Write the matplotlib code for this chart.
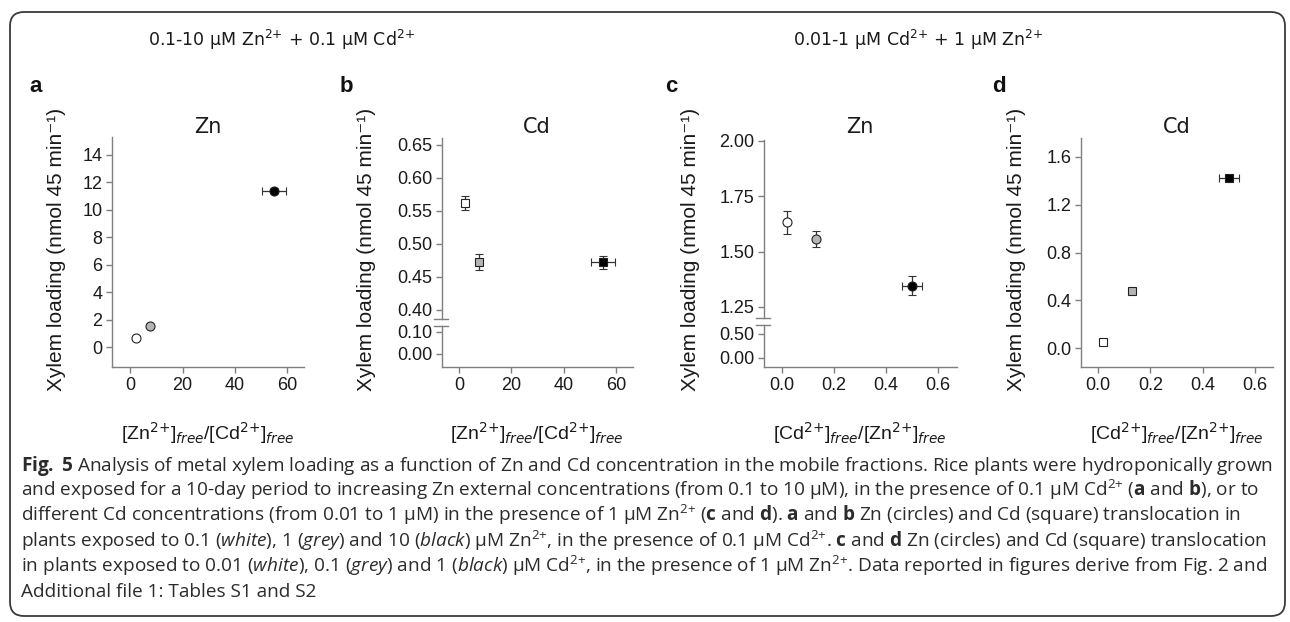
import matplotlib
matplotlib.use('Agg')
import matplotlib.pyplot as plt
from matplotlib.patches import FancyBboxPatch
from matplotlib.lines import Line2D
from matplotlib.transforms import IdentityTransform

W, H = 1290, 622
plt.rcParams['font.family'] = ['Liberation Sans', 'DejaVu Sans']
plt.rcParams['mathtext.fontset'] = 'custom'
plt.rcParams['mathtext.rm'] = 'Open Sans'
plt.rcParams['mathtext.it'] = 'Open Sans:italic'
plt.rcParams['mathtext.bf'] = 'Open Sans:bold'

# ---------------- data ----------------
point_fills = ['white', '#b4b4b4', 'black']

zn_cd_ratio = [2.3, 7.6, 55.0]          # [Zn2+]free/[Cd2+]free (panels a, b)
zn_cd_ratio_err = [0.0, 0.0, 4.6]
zn_load_a = [0.65, 1.5, 11.4]           # Zn xylem loading (a)
zn_load_a_err = [0.0, 0.0, 0.15]
cd_load_b = [0.562, 0.473, 0.472]       # Cd xylem loading (b)
cd_load_b_err = [0.011, 0.012, 0.010]

cd_zn_ratio = [0.02, 0.13, 0.50]        # [Cd2+]free/[Zn2+]free (panels c, d)
cd_zn_ratio_err = [0.0, 0.0, 0.038]
zn_load_c = [1.632, 1.556, 1.346]       # Zn xylem loading (c)
zn_load_c_err = [0.053, 0.036, 0.043]
cd_load_d = [0.05, 0.475, 1.425]        # Cd xylem loading (d)
cd_load_d_err = [0.0, 0.0, 0.02]

ticks_ab_x = [0, 20, 40, 60]
ticks_cd_x = [0.0, 0.2, 0.4, 0.6]
ticks_a_y = [0, 2, 4, 6, 8, 10, 12, 14]
ticks_b_upper = [0.40, 0.45, 0.50, 0.55, 0.60, 0.65]
ticks_b_lower = [0.00, 0.10]
ticks_c_upper = [1.25, 1.50, 1.75, 2.00]
ticks_c_lower = [0.00, 0.50]
ticks_d_y = [0.0, 0.4, 0.8, 1.2, 1.6]

header_left = r"0.1-10 µM Zn$^{2{+}}$ + 0.1 µM Cd$^{2{+}}$"
header_right = r"0.01-1 µM Cd$^{2{+}}$ + 1 µM Zn$^{2{+}}$"
panel_titles = ['Zn', 'Cd', 'Zn', 'Cd']
panel_letters = ['a', 'b', 'c', 'd']
ylabel_text = "Xylem loading (nmol 45 min⁻¹)"
xlabel_ab = r"[Zn$^{2{+}}$]$_{\mathit{free}}$/[Cd$^{2{+}}$]$_{\mathit{free}}$"
xlabel_cd = r"[Cd$^{2{+}}$]$_{\mathit{free}}$/[Zn$^{2{+}}$]$_{\mathit{free}}$"

caption_lines = [
    r"$\mathbf{Fig.\;5}$ Analysis of metal xylem loading as a function of Zn and Cd concentration in the mobile fractions. Rice plants were hydroponically grown",
    r"and exposed for a 10-day period to increasing Zn external concentrations (from 0.1 to 10 µM), in the presence of 0.1 µM Cd$^{2{+}}$ ($\mathbf{a}$ and $\mathbf{b}$), or to",
    r"different Cd concentrations (from 0.01 to 1 µM) in the presence of 1 µM Zn$^{2{+}}$ ($\mathbf{c}$ and $\mathbf{d}$). $\mathbf{a}$ and $\mathbf{b}$ Zn (circles) and Cd (square) translocation in",
    r"plants exposed to 0.1 ($\mathit{white}$), 1 ($\mathit{grey}$) and 10 ($\mathit{black}$) µM Zn$^{2{+}}$, in the presence of 0.1 µM Cd$^{2{+}}$. $\mathbf{c}$ and $\mathbf{d}$ Zn (circles) and Cd (square) translocation",
    r"in plants exposed to 0.01 ($\mathit{white}$), 0.1 ($\mathit{grey}$) and 1 ($\mathit{black}$) µM Cd$^{2{+}}$, in the presence of 1 µM Zn$^{2{+}}$. Data reported in figures derive from Fig. 2 and",
    "Additional file 1: Tables S1 and S2",
]

# ---------------- figure ----------------
fig = plt.figure(figsize=(W / 100, H / 100), dpi=100)
fig.patch.set_facecolor('white')
AXC = '#7f7f7f'
TXT = '#1a1a1a'


def fx(x):
    return x / W


def fy(y):
    return 1 - y / H


def add_axes_px(x0, y0, x1, y1):
    return fig.add_axes([x0 / W, 1 - y1 / H, (x1 - x0) / W, (y1 - y0) / H])


def style(ax, show_bottom=True):
    ax.patch.set_alpha(0)
    for s in ['top', 'right']:
        ax.spines[s].set_visible(False)
    ax.spines['left'].set_color(AXC)
    ax.spines['bottom'].set_color(AXC)
    ax.spines['left'].set_linewidth(1.0)
    ax.spines['bottom'].set_linewidth(1.0)
    ax.tick_params(direction='out', length=4, width=1, color=AXC,
                   labelsize=13, labelcolor=TXT, pad=3)
    if not show_bottom:
        ax.spines['bottom'].set_visible(False)
        ax.set_xticks([])


def draw_points(ax, xs, xerrs, ys, yerrs, marker, ms):
    for x, xe, y, ye, fc in zip(xs, xerrs, ys, yerrs, point_fills):
        ax.errorbar(x, y,
                    xerr=xe if xe > 0 else None,
                    yerr=ye if ye > 0 else None,
                    fmt=marker, ms=ms, mfc=fc, mec='#222222', mew=0.8,
                    ecolor='#333333', elinewidth=0.9, capsize=3, capthick=0.9,
                    zorder=3)


def break_marks(xax, y_top_gap, y_bot_gap):
    for yy in (y_top_gap, y_bot_gap):
        fig.add_artist(Line2D([fx(xax - 8), fx(xax + 6)], [fy(yy), fy(yy)],
                              transform=fig.transFigure, color=AXC, lw=1.0))


# Panel a
axa = add_axes_px(112, 137, 304, 367)
style(axa)
axa.set_xlim(-7, 66.5)
axa.set_ylim(-1.45, 15.3)
axa.set_xticks(ticks_ab_x)
axa.set_yticks(ticks_a_y)
draw_points(axa, zn_cd_ratio, zn_cd_ratio_err, zn_load_a, zn_load_a_err, 'o', 6.5)

# Panel b (broken axis)
axb_u = add_axes_px(442, 138, 633, 319)
axb_l = add_axes_px(442, 326, 633, 367)
style(axb_u, show_bottom=False)
style(axb_l)
for ax in (axb_u, axb_l):
    ax.set_xlim(-6.5, 66.5)
axb_u.set_ylim(0.3863, 0.6606)
axb_l.set_ylim(-0.059, 0.127)
axb_u.set_yticks(ticks_b_upper)
axb_u.set_yticklabels([f"{v:.2f}" for v in ticks_b_upper])
axb_l.set_yticks(ticks_b_lower)
axb_l.set_yticklabels([f"{v:.2f}" for v in ticks_b_lower])
axb_l.set_xticks(ticks_ab_x)
draw_points(axb_u, zn_cd_ratio, zn_cd_ratio_err, cd_load_b, cd_load_b_err, 's', 5.2)
break_marks(442, 319, 326)

# Panel c (broken axis)
axc_u = add_axes_px(764, 140, 957, 318)
axc_l = add_axes_px(764, 325, 957, 367)
style(axc_u, show_bottom=False)
style(axc_l)
for ax in (axc_u, axc_l):
    ax.set_xlim(-0.069, 0.673)
axc_u.set_ylim(1.2003, 2.0045)
axc_l.set_ylim(-0.1875, 0.6875)
axc_u.set_yticks(ticks_c_upper)
axc_u.set_yticklabels([f"{v:.2f}" for v in ticks_c_upper])
axc_l.set_yticks(ticks_c_lower)
axc_l.set_yticklabels([f"{v:.2f}" for v in ticks_c_lower])
axc_l.set_xticks(ticks_cd_x)
axc_l.set_xticklabels([f"{v:.1f}" for v in ticks_cd_x])
draw_points(axc_u, cd_zn_ratio, cd_zn_ratio_err, zn_load_c, zn_load_c_err, 'o', 6.5)
break_marks(764, 318, 325)

# Panel d
axd = add_axes_px(1081, 138, 1273, 367)
style(axd)
axd.set_xlim(-0.065, 0.669)
axd.set_ylim(-0.158, 1.758)
axd.set_xticks(ticks_cd_x)
axd.set_xticklabels([f"{v:.1f}" for v in ticks_cd_x])
axd.set_yticks(ticks_d_y)
axd.set_yticklabels([f"{v:.1f}" for v in ticks_d_y])
draw_points(axd, cd_zn_ratio, cd_zn_ratio_err, cd_load_d, cd_load_d_err, 's', 5.2)

# Panel texts
title_x = [208, 537, 860, 1177]
letter_x = [29, 340, 665, 992]
ylab_x = [57, 366, 691, 1017]
for i in range(4):
    fig.text(fx(title_x[i]), fy(127), panel_titles[i], family='DejaVu Sans',
             fontsize=15, color=TXT, ha='center', va='center')
    fig.text(fx(letter_x[i]), fy(86), panel_letters[i], fontsize=16,
             fontweight='bold', color='#111111', ha='left', va='center')
    fig.text(fx(ylab_x[i]), fy(249), ylabel_text, fontsize=15, color=TXT,
             rotation=90, ha='center', va='center')
    fig.text(fx(title_x[i]), fy(433), xlabel_ab if i < 2 else xlabel_cd,
             fontsize=14, color=TXT, ha='center', va='center',
             math_fontfamily='dejavusans')

# Headers
fig.text(fx(148), fy(40), header_left, family='DejaVu Sans', fontsize=12.5,
         color=TXT, ha='left', va='center', math_fontfamily='dejavusans')
fig.text(fx(793), fy(40), header_right, family='DejaVu Sans', fontsize=12.5,
         color=TXT, ha='left', va='center', math_fontfamily='dejavusans')

# Caption
renderer = fig.canvas.get_renderer()
probe = fig.text(0, 0, caption_lines[0], family='Open Sans', fontsize=10)
w10 = probe.get_window_extent(renderer).width
probe.remove()
cap_fs = 10 * 1250 / w10
cap_y0, cap_dy = 471, 25.2
for k, line in enumerate(caption_lines):
    fig.text(fx(21), fy(cap_y0 + k * cap_dy), line, family='Open Sans',
             fontsize=cap_fs, color='#2b2b2b', ha='left', va='baseline')

# Rounded border
border = FancyBboxPatch((10, H - 616), 1275, 604,
                        boxstyle='round,pad=0,rounding_size=14',
                        transform=IdentityTransform(), fill=False,
                        edgecolor='#3a3a3a', linewidth=1.3)
fig.add_artist(border)

fig.savefig('out.png', dpi=100, facecolor='white')
